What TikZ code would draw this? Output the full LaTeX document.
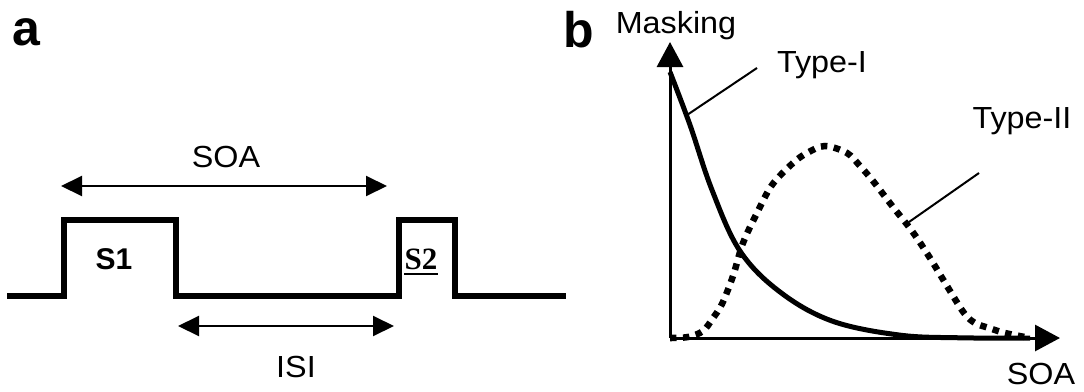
\documentclass[tikz,border=0pt]{standalone}
\usepackage{fontspec}
\setmainfont{Liberation Sans}
\newfontfamily\seriffont{Liberation Serif}
\usetikzlibrary{arrows.meta,calc}
\begin{document}
\begin{tikzpicture}[x=1pt,y=-1pt,
  lbl/.style={font=\fontsize{30.5}{33}\selectfont, xscale=1.06, anchor=base, inner sep=0pt},
  panel/.style={font=\fontsize{50}{55}\selectfont\bfseries, anchor=base, inner sep=0pt},
  stim/.style={font=\fontsize{30}{33}\selectfont\bfseries, anchor=base, inner sep=0pt},
  pulse/.style={line width=6.5pt, line join=miter},
  dimarrow/.style={line width=2pt, {Triangle[length=21pt,width=20pt]}-{Triangle[length=21pt,width=20pt]}},
  axisline/.style={line width=3pt, -{Triangle[length=25pt,width=26pt]}},
  typeone/.style={line width=5pt},
  typetwo/.style={line width=6.5pt, dash pattern=on 6.5pt off 6.5pt},
  leader/.style={line width=2pt}]
\useasboundingbox (0,0) rectangle (1084,391);
\fill[white] (0,0) rectangle (1084,391);

% ---------- panel a ----------
\node[panel] (pa) at (26.5,45) {a};
\draw[pulse] (7,296) -- (64,296) -- (64,220) -- (176,220) -- (176,296)
  -- (399,296) -- (399,220) -- (455,220) -- (455,296) -- (566,296);
\node[stim] (s1) at (114,269) {S1};
\node[stim, font=\fontsize{31}{34}\selectfont\seriffont\bfseries] (s2) at (421,269) {S2};
\draw[line width=2pt] ($(s2.base west)+(0,5)$) -- ($(s2.base east)+(0,5)$);

\coordinate (soaL) at (61,186);
\coordinate (soaR) at (387,186);
\draw[dimarrow] (soaL) -- (soaR);
\node[lbl] (soa) at (226,167) {SOA};

\coordinate (isiL) at (178,326);
\coordinate (isiR) at (394,326);
\draw[dimarrow] (isiL) -- (isiR);
\node[lbl] (isi) at (296,377) {ISI};

% ---------- panel b ----------
\node[panel] (pb) at (579,47) {b};
\coordinate (O) at (670,338);
\coordinate (ytip) at (670,42);
\coordinate (xtip) at (1060,338);
\draw[axisline] (O) -- (ytip);
\draw[axisline] (O) -- (xtip);
\node[lbl] (mask) at (676,33) {Masking};
\node[lbl] (soab) at (1041,384) {SOA};

\draw[typeone] plot[smooth, tension=0.6] coordinates {
  (670,72) (690,125) (712,190) (740,251) (780,292)
  (832,321) (899,335) (960,337.8) (1030,338)};

\draw[typetwo] plot[smooth, tension=0.55] coordinates {
  (670,338) (688,337) (703,331) (713,318) (722,304) (733,276) (743,243)
  (757,213) (772,185) (793,163) (807,153) (825,146) (847,153) (860,166)
  (873,181) (893,207) (912,231) (930,258) (947,286) (964,313) (975,323)
  (989,328) (1005,333) (1030,338)};

\node[lbl] (t1) at (822,72) {Type-I};
\coordinate (t1a) at (757,68);
\coordinate (t1b) at (687,115);
\draw[leader] (t1a) -- (t1b);

\node[lbl] (t2) at (1022,128) {Type-II};
\coordinate (t2a) at (979,173);
\coordinate (t2b) at (909,222);
\draw[leader] (t2a) -- (t2b);
\end{tikzpicture}
\end{document}
